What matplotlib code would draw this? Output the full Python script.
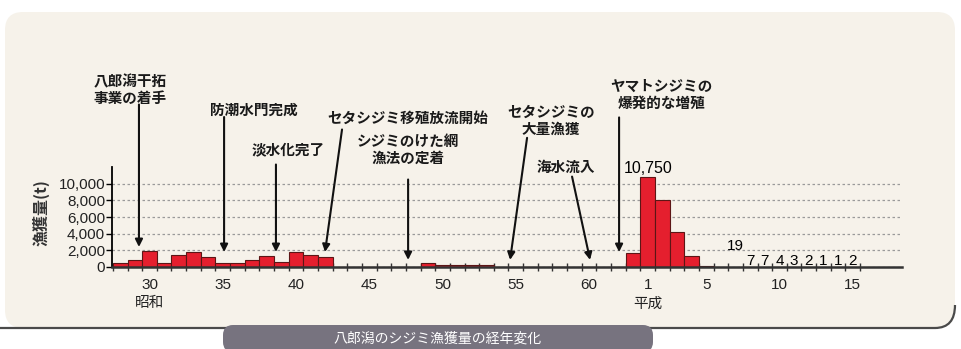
import numpy as np
import matplotlib.pyplot as plt
from matplotlib.patches import FancyBboxPatch, PathPatch
from matplotlib.path import Path

# 漁獲量 (t)
showa_years = list(range(28, 64))
showa_catch = [500, 900, 1900, 500, 1500, 1850, 1150, 500, 500, 850, 1300, 650,
               1850, 1500, 1150, 0, 0, 0, 0, 0, 0, 500, 300, 250, 300, 300,
               40, 40, 40, 40, 40, 40, 40, 40, 40, 1650]
heisei_years = list(range(1, 16))
heisei_catch = [10750, 8100, 4200, 1300, 150, 60, 19, 7, 7, 4, 3, 2, 1, 1, 2]

tick_showa = [30, 35, 40, 45, 50, 55, 60]
tick_heisei = [1, 5, 10, 15]

# 出来事と矢印 (テキスト中心, 矢印の始点, 矢印の先端) 横軸は昭和年
events = [
    ('八郎潟干拓\n事業の着手', (28.67, 21300), (29.28, 19500), (29.28, 2400)),
    ('防潮水門完成', (37.13, 18900), (35.09, 18000), (35.09, 1800)),
    ('淡水化完了', (39.45, 14100), (38.63, 12300), (38.63, 1800)),
    ('セタシジミ移殖放流開始', (47.65, 17950), (43.14, 16500), (41.98, 1800)),
    ('シジミのけた網\n漁法の定着', (47.65, 14100), (47.65, 10500), (47.65, 850)),
    ('セタシジミの\n大量漁獲', (57.42, 17600), (55.77, 15500), (54.61, 850)),
    ('海水流入', (58.43, 12050), (58.84, 10850), (60.07, 850)),
    ('ヤマトシジミの\n爆発的な増殖', (64.92, 20700), (62.05, 17950), (62.05, 1800)),
]

JP = ['Noto Sans CJK JP', 'DejaVu Sans']
NUM = ['Liberation Sans', 'DejaVu Sans']

W, H = 962, 349
fig = plt.figure(figsize=(W / 100, H / 100), dpi=100)
fig.patch.set_facecolor('white')


def inch(x, y):
    return x / 100, (H - y) / 100


# 背景パネル
x0, y0 = inch(5, 328)
panel = FancyBboxPatch((x0, y0), 950 / 100, 316 / 100,
                       boxstyle='round,pad=0,rounding_size=0.18',
                       transform=fig.dpi_scale_trans, facecolor='#f6f2ea',
                       edgecolor='none', zorder=0)
fig.add_artist(panel)

# 下枠線と右下の角
verts = [inch(0, 328), inch(935, 328), inch(955, 328), inch(955, 305)]
codes = [Path.MOVETO, Path.LINETO, Path.CURVE3, Path.CURVE3]
fig.add_artist(PathPatch(Path(verts, codes), transform=fig.dpi_scale_trans,
                         facecolor='none', edgecolor='#4a4a4a', lw=1.6, zorder=1))

# タイトル帯
bx, by = inch(223, 352)
title_box = FancyBboxPatch((bx, by), 430 / 100, 27 / 100,
                           boxstyle='round,pad=0,rounding_size=0.1',
                           transform=fig.dpi_scale_trans, facecolor='#77737f',
                           edgecolor='none', zorder=2)
fig.add_artist(title_box)
fig.text(438 / W, 1 - 339 / H, '八郎潟のシジミ漁獲量の経年変化', family=JP,
         fontsize=10, color='white', ha='center', va='center', zorder=3)

ax = fig.add_axes([112 / W, 1 - 267 / H, (902 - 112) / W, 100 / H])
ax.set_facecolor('none')

x = np.array(showa_years + [63 + h for h in heisei_years], dtype=float)
y = np.array(showa_catch + heisei_catch, dtype=float)
ax.bar(x, y, width=1.0, color='#e51f2e', edgecolor='#5c1616', linewidth=0.8,
       zorder=3)

ax.set_xlim(27.44, 81.36)
ax.set_ylim(0, 12000)

for s in ['top', 'right']:
    ax.spines[s].set_visible(False)
ax.spines['left'].set_linewidth(1.3)
ax.spines['bottom'].set_linewidth(1.8)
ax.spines['bottom'].set_color('#333333')
ax.spines['left'].set_zorder(4)
ax.spines['bottom'].set_zorder(4)

yt = np.arange(0, 10001, 2000)
ax.set_yticks(yt)
ax.set_yticklabels([f'{v:,}' for v in yt], family=NUM, fontsize=11, color='#222222')
ax.tick_params(axis='y', length=4, width=1, pad=1)
ax.yaxis.grid(True, linestyle=(0, (2, 2)), color='#9a9a9a', lw=0.9)
ax.set_axisbelow(True)

xt = tick_showa + [63 + h for h in tick_heisei]
ax.set_xticks(xt)
ax.set_xticklabels([str(v) for v in tick_showa + tick_heisei], family=NUM,
                   fontsize=11, color='#222222')
ax.set_xticks(np.arange(27.5, 79, 1.0), minor=True)
ax.tick_params(axis='x', which='major', length=0, pad=8)
ax.tick_params(axis='x', which='minor', direction='inout', length=6, width=1,
               color='#333333')

tr = ax.get_xaxis_transform()
ax.text(30, -0.36, '昭和', transform=tr, family=JP, fontsize=10.5, ha='center',
        va='center', color='#222222')
ax.text(64, -0.37, '平成', transform=tr, family=JP, fontsize=10.5, ha='center',
        va='center', color='#222222')

fig.text(41 / W, 1 - 213 / H, '漁獲量(t)', family=JP, fontsize=11.5,
         fontweight='bold', rotation=90, ha='center', va='center', color='#333333')

# 平成の数値ラベル
ax.annotate(f'{heisei_catch[0]:,}', (64, heisei_catch[0]), xytext=(0, 1),
            textcoords='offset points', ha='center', va='bottom', family=NUM,
            fontsize=11.5, annotation_clip=False)
for h, v in zip(heisei_years[6:], heisei_catch[6:]):
    dy = 10 if v >= 10 else -1
    ax.annotate(str(v), (63 + h, v), xytext=(0, dy), textcoords='offset points',
                ha='center', va='bottom', family=NUM, fontsize=11,
                annotation_clip=False, zorder=5)

for label, tpos, tail, tip in events:
    ax.text(tpos[0], tpos[1], label, family=JP, fontsize=10.5, fontweight='bold',
            ha='center', va='center', linespacing=1.1, clip_on=False,
            color='#1a1a1a')
    ax.annotate('', xy=tip, xytext=tail, annotation_clip=False,
                arrowprops=dict(arrowstyle='-|>', color='#111111', lw=1.5,
                                mutation_scale=11, shrinkA=0, shrinkB=0))

fig.savefig('out.png', dpi=100)
